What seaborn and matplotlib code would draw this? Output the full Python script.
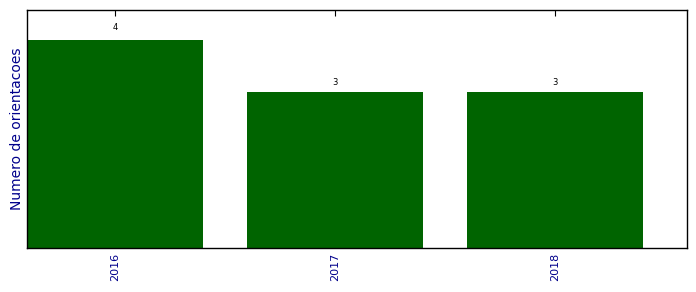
import matplotlib
matplotlib.use("Agg")
import matplotlib.pyplot as plt
import seaborn as sns
import pandas as pd

years = ["2016", "2017", "2018"]
counts = [4, 3, 3]

sns.set_style("white")
plt.rcParams['font.family'] = ['DejaVu Sans']

df = pd.DataFrame({"ano": years, "n": counts})

fig = plt.figure(figsize=(6.96, 2.92), dpi=100)
ax = fig.add_axes([27/696, 1-248/292, (687-27)/696, (248-10)/292])
sns.barplot(data=df, x="ano", y="n", color="#006400", saturation=1, width=0.8,
            linewidth=0, ax=ax)
ax.set_xlim(-0.4, 2.6)
ax.set_ylim(0, 4.58)
ax.set_xlabel("")
ax.set_ylabel("Numero de orientacoes", color="#00008B", fontsize=10, labelpad=2)
ax.set_yticks([])
ax.tick_params(axis="x", direction="in", top=True, bottom=True, length=4,
               labelsize=8, labelcolor="#00008B", rotation=90, color="black")
for s in ax.spines.values():
    s.set_visible(True)
    s.set_color("black")
    s.set_linewidth(1)
for i, v in enumerate(counts):
    ax.text(i, v * 1.063, str(v), ha="center", va="center", fontsize=6,
            color="black")
fig.savefig("out.png", dpi=100)
